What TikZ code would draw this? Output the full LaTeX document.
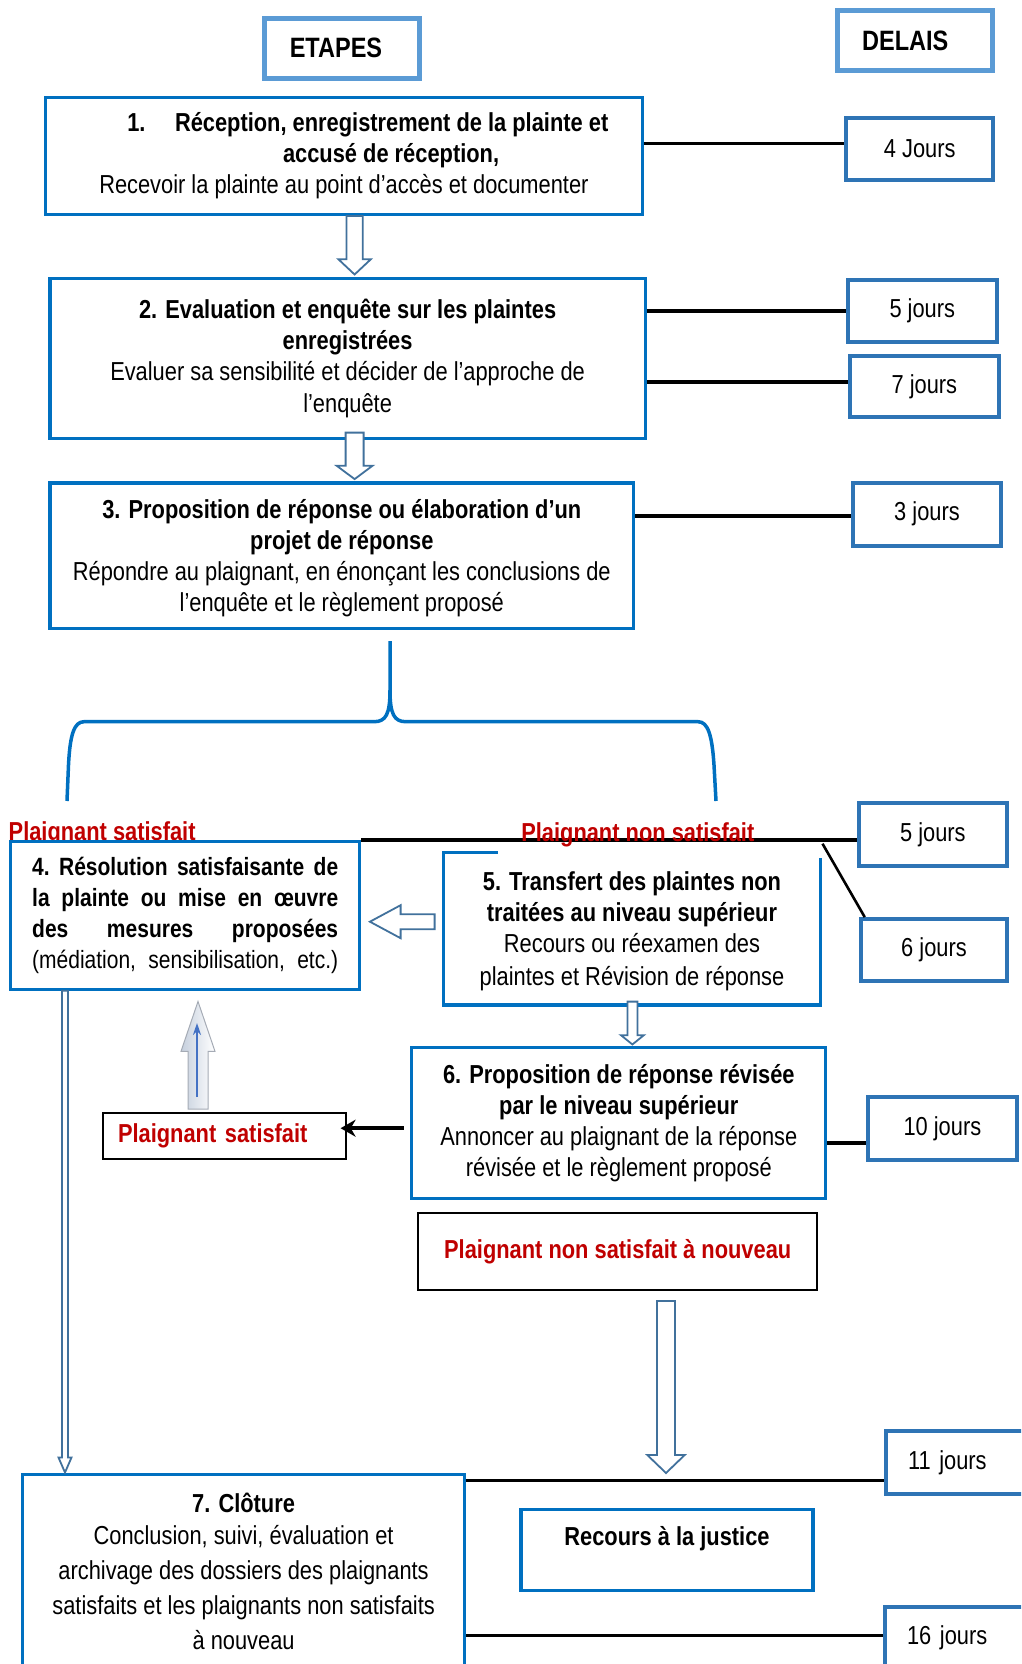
\documentclass[tikz,border=0pt]{standalone}
\usepackage{fontspec}
\setmainfont{Liberation Sans}[FakeStretch=0.84]
\usetikzlibrary{calc,arrows.meta}
\definecolor{mainblue}{HTML}{0070C0}
\definecolor{delayblue}{HTML}{2E74B5}
\definecolor{headblue}{HTML}{5B9BD5}
\definecolor{arrowblue}{HTML}{41719C}
\definecolor{redtxt}{HTML}{C00000}
\definecolor{upl}{HTML}{C5CFDD}
\definecolor{upd}{HTML}{A5ABB5}
\definecolor{innerblue}{HTML}{4472C4}
\newcommand\myfs{\fontsize{26}{31}\selectfont}
\newcommand\myfh{\fontsize{28}{33}\selectfont}
\newcommand\jline[1]{\leavevmode\hbox to 306pt{#1}}
% hollow down arrow: #1 x, #2 top anchor, #3 tip anchor, #4 shaft half, #5 head half, #6 head length, #7 top shift (up), #8 tip shift (up)
\newcommand\hdown[8]{%
  \filldraw[hollow] let \p1=(#2), \p2=(#3) in
   (#1pt-#4pt,\y1+#7pt) -- (#1pt-#4pt,\y2+#8pt+#6pt) -- (#1pt-#5pt,\y2+#8pt+#6pt)
   -- (#1pt,\y2+#8pt) -- (#1pt+#5pt,\y2+#8pt+#6pt) -- (#1pt+#4pt,\y2+#8pt+#6pt)
   -- (#1pt+#4pt,\y1+#7pt) -- cycle;}
\begin{document}
\begin{tikzpicture}[x=1pt,y=-1pt,
  mainbox/.style={draw=mainblue, line width=3.2pt, fill=white, inner sep=0pt, align=center, font=\myfs},
  delay/.style={draw=delayblue, line width=4pt, fill=white, inner sep=0pt, align=center, font=\myfs},
  headbox/.style={draw=headblue, line width=5pt, fill=white, inner sep=0pt, font=\myfh\bfseries},
  redbox/.style={draw=black, line width=2pt, fill=white, inner sep=0pt, align=center, font=\myfs\bfseries, text=redtxt},
  redlabel/.style={inner sep=0pt, font=\myfs\bfseries, text=redtxt},
  conn/.style={draw=black, line width=3.5pt},
  hollow/.style={draw=arrowblue, line width=1.8pt, fill=white},
  brace/.style={draw=mainblue, line width=3.5pt},
]
\useasboundingbox (0,0) rectangle (1021,1664);
\clip (0,0) rectangle (1021,1664);

% headers
\node[headbox, minimum width=155pt, minimum height=60pt] (etapes) at (341.8,48.3) {ETAPES\hspace*{11.7pt}};
\node[headbox, minimum width=155pt, minimum height=60pt] (delais) at (914.8,40.9) {DELAIS\hspace*{19pt}};

% step 1
\node[mainbox, minimum width=596.5pt, minimum height=116.8pt] (box1) at (343.9,156)
  {\hspace*{47.8pt}\textbf{\makebox[47.7pt][l]{1.}Réception, enregistrement de la plainte et}\\
   \hspace*{94.4pt}\textbf{accusé de réception,}\\
   Recevoir la plainte au point d’accès et documenter};
\node[delay, minimum width=147.5pt, minimum height=62.6pt] (d1) at (919.7,149.1) {4 Jours};
\draw[conn] (box1.east |- 0,143.3) -- (d1.west |- 0,143.3);

% step 2
\node[mainbox, minimum width=595.4pt, minimum height=160.2pt] (box2) at (347.6,358.2)
  {\textbf{2. Evaluation et enquête sur les plaintes}\\
   \textbf{enregistrées}\\
   Evaluer sa sensibilité et décider de l’approche de\\[1pt]
   l’enquête};
\node[delay, minimum width=148.6pt, minimum height=61.5pt] (d2a) at (922.3,311) {5 jours};
\node[delay, minimum width=148.6pt, minimum height=61.6pt] (d2b) at (924.4,386.3) {7 jours};
\draw[conn] (box2.east |- 0,311) -- (d2a.west |- 0,311);
\draw[conn] (box2.east |- 0,382.1) -- (d2b.west |- 0,382.1);
\hdown{354.6}{box1.south}{box2.north}{8.2}{16.3}{15.3}{0}{2}

% step 3
\node[mainbox, minimum width=583.7pt, minimum height=145.4pt] (box3) at (341.8,555.6)
  {\rule{0pt}{24pt}\textbf{3. Proposition de réponse ou élaboration d’un}\\
   \textbf{projet de réponse}\\
   Répondre au plaignant, en énonçant les conclusions de\\
   l’enquête et le règlement proposé};
\node[delay, minimum width=147.5pt, minimum height=62.6pt] (d3) at (927,514.2) {3 jours};
\draw[conn] (box3.east |- 0,515.8) -- (d3.west |- 0,515.8);
\hdown{354.6}{box2.south}{box3.north}{9}{18}{13.4}{7.3}{2.2}

% brace
\draw[brace] (390,641) -- (390,690) .. controls (390,714) and (386,721.7) .. (374,721.7)
  -- (84,721.7) .. controls (74,721.7) and (70,735) .. (68.5,765) -- (67,801);
\draw[brace] (390,690) .. controls (390,714) and (394,721.7) .. (406,721.7)
  -- (698,721.7) .. controls (708,721.7) and (712,735) .. (714,765) -- (716,801);

% left label (partly hidden by box 4)
\node[redlabel, anchor=base west] (lsat) at (8.5,840.5) {Plaignant satisfait};

% step 4
\node[mainbox, minimum width=349.2pt, minimum height=147.5pt, text width=306pt, align=left,
      font=\fontsize{25}{31}\selectfont] (box4) at (185.2,915.4)
  {\jline{\bfseries 4.\hfill Résolution\hfill satisfaisante\hfill de}\\
   \jline{\bfseries la\hfill plainte\hfill ou\hfill mise\hfill en\hfill œuvre}\\
   \jline{\bfseries des\hfill mesures\hfill proposées}\\
   \jline{(médiation,\hfill sensibilisation,\hfill etc.)}};

% step 5
\node[mainbox, minimum width=376.8pt, minimum height=152.8pt] (box5) at (632,928.6)
  {\rule{0pt}{24pt}\textbf{5. Transfert des plaintes non}\\
   \textbf{traitées au niveau supérieur}\\
   Recours ou réexamen des\\[2pt]
   plaintes et Révision de réponse};
\fill[white] ($(box5.north west)+(56.3,-6)$) rectangle ($(box5.north east)+(4,7.5)$);
\node[delay, minimum width=148.6pt, minimum height=62.6pt] (d5a) at (932.9,834.7) {5 jours};
\node[delay, minimum width=146.5pt, minimum height=61.5pt] (d6) at (934,949.9) {6 jours};
\draw[conn] (box4.north east) -- (box4.north east -| d5a.west);
\coordinate (dstart) at (822.5,843.7);
\draw[draw=black, line width=2.6pt] (dstart) -- ($(d6.north west)+(6,0)$);
\node[redlabel, anchor=base] (lnsat) at (637.8,841.5) {Plaignant non satisfait};

% hollow arrow box5 -> box4
\filldraw[hollow] let \p1=(box5.west), \p2=(box4.east) in
  (\x1-7.4pt,-914.2pt) -- (\x2+39.2pt,-914.2pt) -- (\x2+39.2pt,-905.2pt) -- (\x2+8.5pt,-921.7pt)
  -- (\x2+39.2pt,-938.2pt) -- (\x2+39.2pt,-929.2pt) -- (\x1-7.4pt,-929.2pt) -- cycle;

% step 6
\node[mainbox, minimum width=413.9pt, minimum height=150.7pt] (box6) at (618.8,1122.9)
  {\textbf{6. Proposition de réponse révisée}\\
   \textbf{par le niveau supérieur}\\
   Annoncer au plaignant de la réponse\\
   révisée et le règlement proposé};
\hdown{632.4}{box5.south}{box6.north}{5}{11.5}{9.3}{5}{1.5}
\node[delay, minimum width=148.6pt, minimum height=62.6pt] (d10) at (942.4,1128.7) {10 jours};
\draw[conn] (box6.east |- 0,1143) -- (d10.west |- 0,1143);

% satisfied box
\node[redbox, minimum height=45.7pt, text width=213pt, inner xsep=15pt, align=left] (psbox) at (224.5,1136.2) {Plaignant satisfait};
\draw[line width=4.5pt, -{Stealth[length=15pt,width=17pt]}]
  ($(box6.west |- 0,1128.2)+(-6.4,0)$) -- ($(psbox.east |- 0,1128.2)+(-6.4,0)$);

% upward 3D arrow
\shade[left color=upl, right color=white, draw=upd, line width=1pt] let \p1=(psbox.north), \p2=(box4.south) in
  (188pt,\y1+3.3pt) -- (188pt,\y2-60.6pt) -- (181pt,\y2-60.6pt) -- (198pt,\y2-10.7pt)
  -- (215pt,\y2-60.6pt) -- (208pt,\y2-60.6pt) -- (208pt,\y1+3.3pt) -- cycle;
\coordinate (ua) at (197,1097);
\coordinate (ub) at (197,1023);
\draw[innerblue, line width=2pt, -{Stealth[length=12pt,width=8pt]}] (ua) -- (ub);

% not satisfied again
\node[redbox, minimum width=399pt, minimum height=76.5pt] (pnsn) at (617.7,1251.3) {Plaignant non satisfait à nouveau};

% step 7
\node[mainbox, minimum width=442.5pt, minimum height=194pt, font=\fontsize{26}{35}\selectfont] (box7) at (243.6,1571.1)
  {\textbf{7. Clôture}\\[-3pt]
   Conclusion, suivi, évaluation et\\
   archivage des dossiers des plaignants\\
   satisfaits et les plaignants non satisfaits\\
   à nouveau};
\hdown{65}{box4.south}{box7.north}{3}{6.5}{15}{0}{0}

\node[mainbox, minimum width=292pt, minimum height=81.7pt, text depth=28pt] (recours) at (667,1550) {\textbf{Recours à la justice}};

\node[delay, anchor=west, minimum height=63.7pt, text width=130pt, inner xsep=22pt, align=left] (d11) at (884,1462.5) {11 jours};
\node[delay, anchor=west, minimum height=62.6pt, text width=130pt, inner xsep=22pt, align=left] (d16) at (883,1638) {16 jours};
\draw[conn] (box7.east |- 0,1480.5) -- (d11.west |- 0,1480.5);
\draw[conn] (box7.east |- 0,1635.5) -- (d16.west |- 0,1635.5);
\coordinate (j) at (666,1480.5);
\hdown{666}{pnsn.south}{j}{9}{18.7}{18}{-10.5}{7.5}
\end{tikzpicture}
\end{document}
